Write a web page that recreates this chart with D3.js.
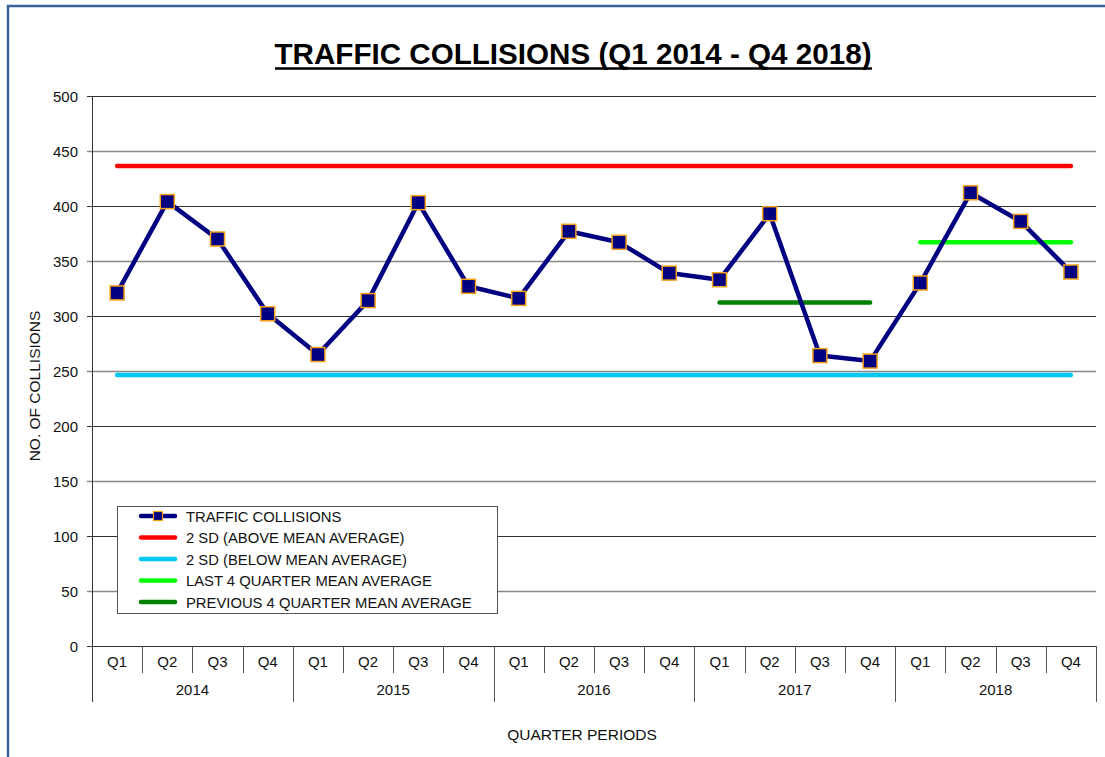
<!DOCTYPE html>
<html>
<head>
<meta charset="utf-8">
<script src="https://cdn.jsdelivr.net/npm/d3@7"></script>
<style>
  body { margin: 0; background: #fff; }
  svg { display: block; font-family: Arial, "Liberation Sans", sans-serif; }
</style>
</head>
<body>
<div id="chart"></div>
<script>
// chart data
var years = ["2014", "2015", "2016", "2017", "2018"];
var quarters = ["Q1", "Q2", "Q3", "Q4"];
var collisions = [321, 404, 370, 302, 265, 314, 403, 327, 316, 377, 367, 339, 333, 393, 264, 259, 330, 412, 386, 340];
var upperSD = 436.4;
var lowerSD = 246.4;
var last4Mean = 367;      // Q1 2018 - Q4 2018
var prev4Mean = 312.3;    // Q1 2017 - Q4 2017
var yTicks = [0, 50, 100, 150, 200, 250, 300, 350, 400, 450, 500];

var legendItems = [
  { label: "TRAFFIC COLLISIONS", color: "#000080", marker: true },
  { label: "2 SD (ABOVE MEAN AVERAGE)", color: "#ff0000" },
  { label: "2 SD (BELOW MEAN AVERAGE)", color: "#00c8f5" },
  { label: "LAST 4 QUARTER MEAN AVERAGE", color: "#00ff00" },
  { label: "PREVIOUS 4 QUARTER MEAN AVERAGE", color: "#008000" }
];

var width = 1105, height = 757;
var plotLeft = 92, plotRight = 1096, plotTop = 96, plotBottom = 646;

// one key per quarter, e.g. "2014-Q1"
var keys = [];
years.forEach(function (yr) {
  quarters.forEach(function (q) { keys.push(yr + "-" + q); });
});
var points = collisions.map(function (v, i) { return { key: keys[i], value: v }; });

var x = d3.scaleBand().domain(keys).range([plotLeft, plotRight]).padding(0);
var y = d3.scaleLinear().domain([0, 500]).range([plotBottom, plotTop]);
function cx(k) { return x(k) + x.bandwidth() / 2; }

var svg = d3.select("#chart").append("svg")
  .attr("width", width)
  .attr("height", height);

// blue frame (only top and left edges visible)
svg.append("rect")
  .attr("x", 8).attr("y", 6)
  .attr("width", width + 20).attr("height", height + 20)
  .attr("fill", "none")
  .attr("stroke", "#3a6399")
  .attr("stroke-width", 2.5);

// title
svg.append("text")
  .attr("x", 573).attr("y", 64)
  .attr("text-anchor", "middle")
  .attr("font-family", "'Liberation Sans Narrow', 'Arial Narrow', Arial, sans-serif")
  .attr("font-weight", "bold")
  .attr("font-size", 29)
  .attr("textLength", 597)
  .attr("lengthAdjust", "spacingAndGlyphs")
  .text("TRAFFIC COLLISIONS (Q1 2014 - Q4 2018)");
svg.append("line")
  .attr("x1", 275).attr("x2", 872)
  .attr("y1", 68.5).attr("y2", 68.5)
  .attr("stroke", "#000").attr("stroke-width", 2.5);

// gridlines
svg.append("g").selectAll("line")
  .data(yTicks)
  .enter().append("line")
  .attr("x1", plotLeft - 5).attr("x2", plotRight)
  .attr("y1", function (d) { return Math.round(y(d)) + 0.5; })
  .attr("y2", function (d) { return Math.round(y(d)) + 0.5; })
  .attr("stroke", function (d) { return d % 100 === 0 ? "#333" : "#888"; })
  .attr("stroke-width", function (d) { return d % 100 === 0 ? 1 : 1.6; });

// y axis labels
svg.append("g").selectAll("text")
  .data(yTicks)
  .enter().append("text")
  .attr("x", 78)
  .attr("y", function (d) { return y(d) + 5.5; })
  .attr("text-anchor", "end")
  .attr("font-size", 15)
  .attr("fill", "#111")
  .text(function (d) { return d; });

// y axis line
svg.append("line")
  .attr("x1", plotLeft + 0.5).attr("x2", plotLeft + 0.5)
  .attr("y1", plotTop).attr("y2", 702)
  .attr("stroke", "#333");

svg.append("text")
  .attr("transform", "translate(40,386) rotate(-90)")
  .attr("text-anchor", "middle")
  .attr("font-size", 15.5)
  .attr("fill", "#111")
  .text("NO. OF  COLLISIONS");

// x axis: quarter separators and labels
svg.append("g").selectAll("line")
  .data(keys.slice(1))
  .enter().append("line")
  .attr("x1", function (d) { return Math.round(x(d)) + 0.5; })
  .attr("x2", function (d) { return Math.round(x(d)) + 0.5; })
  .attr("y1", plotBottom)
  .attr("y2", function (d) { return d.slice(-2) === "Q1" ? 702 : 673; })
  .attr("stroke", "#555");
svg.append("line")
  .attr("x1", plotRight + 0.5).attr("x2", plotRight + 0.5)
  .attr("y1", plotBottom).attr("y2", 702)
  .attr("stroke", "#555");

svg.append("g").selectAll("text")
  .data(keys)
  .enter().append("text")
  .attr("x", function (d) { return cx(d); })
  .attr("y", 667)
  .attr("text-anchor", "middle")
  .attr("font-size", 15)
  .attr("fill", "#111")
  .text(function (d) { return d.split("-")[1]; });

svg.append("g").selectAll("text")
  .data(years)
  .enter().append("text")
  .attr("x", function (d) { return (x(d + "-Q1") + x(d + "-Q4") + x.bandwidth()) / 2; })
  .attr("y", 695)
  .attr("text-anchor", "middle")
  .attr("font-size", 15)
  .attr("fill", "#111")
  .text(function (d) { return d; });

svg.append("text")
  .attr("x", 582).attr("y", 740)
  .attr("text-anchor", "middle")
  .attr("font-size", 15.5)
  .attr("fill", "#111")
  .text("QUARTER PERIODS");

// reference lines
function hline(k1, k2, v, color) {
  svg.append("line")
    .attr("x1", cx(k1)).attr("x2", cx(k2))
    .attr("y1", y(v)).attr("y2", y(v))
    .attr("stroke", color)
    .attr("stroke-width", 4.5)
    .attr("stroke-linecap", "round");
}
hline(keys[0], keys[keys.length - 1], upperSD, legendItems[1].color);
hline(keys[0], keys[keys.length - 1], lowerSD, legendItems[2].color);
hline("2018-Q1", "2018-Q4", last4Mean, legendItems[3].color);
hline("2017-Q1", "2017-Q4", prev4Mean, legendItems[4].color);

// collisions series
var line = d3.line()
  .x(function (d) { return cx(d.key); })
  .y(function (d) { return y(d.value); });

svg.append("path")
  .datum(points)
  .attr("d", line)
  .attr("fill", "none")
  .attr("stroke", "#000080")
  .attr("stroke-width", 4.5)
  .attr("stroke-linejoin", "round");

svg.append("g").selectAll("rect")
  .data(points)
  .enter().append("rect")
  .attr("x", function (d) { return cx(d.key) - 7; })
  .attr("y", function (d) { return y(d.value) - 7; })
  .attr("width", 14).attr("height", 14)
  .attr("fill", "#000080")
  .attr("stroke", "#f7a21b")
  .attr("stroke-width", 1.5);

// legend
var legend = svg.append("g");
legend.append("rect")
  .attr("x", 117.5).attr("y", 506.5)
  .attr("width", 380).attr("height", 107)
  .attr("fill", "#fff")
  .attr("stroke", "#555");

var rows = legend.selectAll("g")
  .data(legendItems)
  .enter().append("g")
  .attr("transform", function (d, i) { return "translate(0," + (516 + i * 21.5) + ")"; });

rows.append("line")
  .attr("x1", 141).attr("x2", 175)
  .attr("y1", 0).attr("y2", 0)
  .attr("stroke", function (d) { return d.color; })
  .attr("stroke-width", 4.5)
  .attr("stroke-linecap", "round");

rows.filter(function (d) { return d.marker; })
  .append("rect")
  .attr("x", 153.5).attr("y", -4.5)
  .attr("width", 9).attr("height", 9)
  .attr("fill", "#000080")
  .attr("stroke", "#f7a21b")
  .attr("stroke-width", 1.2);

rows.append("text")
  .attr("x", 186).attr("y", 5.5)
  .attr("font-size", 14.8)
  .attr("fill", "#111")
  .text(function (d) { return d.label; });
</script>
</body>
</html>
